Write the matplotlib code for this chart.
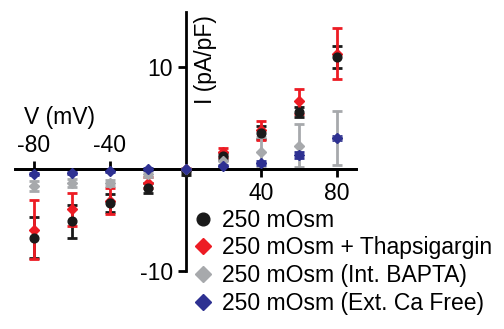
import matplotlib.pyplot as plt

plt.rcParams['font.family'] = ['Liberation Sans', 'DejaVu Sans']

# voltage steps (mV)
voltages = [-80, -60, -40, -20, 0, 20, 40, 60, 80]

# current density (pA/pF), mean and error
ctrl_mean = [-6.7, -5.1, -3.3, -1.8, -0.3, 1.3, 3.6, 5.6, 11.0]
ctrl_err = [2.0, 1.6, 0.9, 0.5, 0.3, 0.3, 0.6, 0.5, 1.05]

thaps_mean = [-5.9, -3.9, -3.1, -1.3, 0.0, 1.65, 3.8, 6.65, 11.3]
thaps_err = [2.9, 1.6, 1.3, 0.5, 0.1, 0.4, 0.9, 1.25, 2.5]

bapta_mean = [-1.6, -1.3, -1.3, -0.5, 0.0, 0.85, 1.65, 2.3, 3.1]
bapta_err = [0.5, 0.4, 0.3, 0.3, 0.1, 0.5, 1.5, 2.1, 2.65]

cafree_mean = [-0.45, -0.4, -0.15, 0.0, 0.0, 0.3, 0.65, 1.4, 3.1]
cafree_err = [0.1, 0.1, 0.1, 0.1, 0.05, 0.15, 0.2, 0.25, 0.2]

labels = ['250 mOsm', '250 mOsm + Thapsigargin',
          '250 mOsm (Int. BAPTA)', '250 mOsm (Ext. Ca Free)']
colors = ['#1a1a1a', '#ed1c24', '#a7a9ac', '#2e3192']
markers = ['o', 'D', 'D', 'D']
# error bars stacked in series order, markers: black over red
bar_z = [2.0, 2.1, 2.2, 2.3]
marker_z = [3.1, 3.0, 3.2, 3.3]

x_ticks = [-80, -40, 40, 80]
x_tick_labels = ['-80', '-40', '40', '80']
y_ticks = [-10, 10]
y_tick_labels = ['-10', '10']

fig = plt.figure(figsize=(5.04, 3.29), dpi=100)
ax = fig.add_axes([0.0298, 0.1748, 0.6766, 0.7888])

series = [(ctrl_mean, ctrl_err), (thaps_mean, thaps_err),
          (bapta_mean, bapta_err), (cafree_mean, cafree_err)]
handles = []
for i, ((m, e), c, mk, lab) in enumerate(zip(series, colors, markers, labels)):
    ax.errorbar(voltages, m, yerr=e, fmt='none', ecolor=c, elinewidth=2,
                capsize=3.5, capthick=2, clip_on=False, zorder=bar_z[i])
    h, = ax.plot(voltages, m, linestyle='none', marker=mk, color=c,
                 ms=6.3 if mk == 'o' else 5.6, clip_on=False, label=lab,
                 zorder=marker_z[i])
    handles.append(h)

ax.set_xlim(-90, 90)
ax.set_ylim(-10, 15.4)

# axes crossing at the origin
for s in ['left', 'bottom', 'top']:
    ax.spines[s].set_position(('data', 0))
    ax.spines[s].set_linewidth(2)
ax.spines['right'].set_visible(False)

ax.set_yticks(y_ticks)
ax.set_yticklabels(y_tick_labels)
ax.tick_params(axis='y', direction='out', length=6, width=2, pad=3,
               labelsize=16.5)

ax.set_xticks(x_ticks)
ax.set_xticklabels(x_tick_labels)
ax.tick_params(axis='x', top=True, bottom=True, labeltop=True,
               labelbottom=True, direction='out', length=6, width=2,
               pad=3, labelsize=16.5)
# negative ticks point up with labels above, positive ones down
for tick, v in zip(ax.xaxis.get_major_ticks(), x_ticks):
    if v < 0:
        tick.tick1line.set_visible(False)
        tick.label1.set_visible(False)
    else:
        tick.tick2line.set_visible(False)
        tick.label2.set_visible(False)

ax.text(0.56, 0.815, 'I (pA/pF)', transform=ax.transAxes, rotation=90,
        ha='center', va='center', fontsize=16.5)
ax.text(0.129, 0.595, 'V (mV)', transform=ax.transAxes,
        ha='center', va='center', fontsize=16.5)

fig.legend(handles=handles, loc='upper left', bbox_to_anchor=(0.385, 0.365),
           frameon=False, fontsize=16.5, handlelength=0.8, handletextpad=0.4,
           labelspacing=0.2, borderpad=0, borderaxespad=0, markerscale=1.45)

plt.savefig('out.png', dpi=100)
